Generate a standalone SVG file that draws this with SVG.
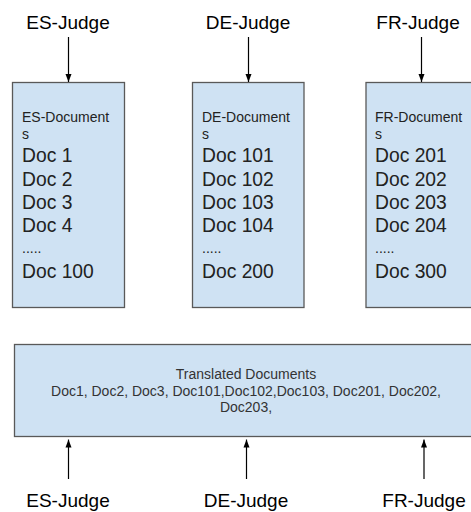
<svg xmlns="http://www.w3.org/2000/svg" width="471" height="512" viewBox="0 0 471 512">
<defs>
<marker id="ah" viewBox="0 0 8 8" refX="8" refY="4" markerWidth="8" markerHeight="8" markerUnits="userSpaceOnUse" orient="auto">
<path d="M0,1 L8,4 L0,7 Z" fill="#000"/>
</marker>
<style>
.box{fill:#cfe2f3;stroke:#595959;stroke-width:1.3}
.lbl{font-family:"Liberation Sans",Arial,sans-serif;font-size:19px;fill:#000;text-anchor:middle}
.small{font-family:"Liberation Sans",Arial,sans-serif;font-size:14px;fill:#222}
.big{font-family:"Liberation Sans",Arial,sans-serif;font-size:19.3px;fill:#222}
.mid{font-family:"Liberation Sans",Arial,sans-serif;font-size:14px;fill:#333;text-anchor:middle}
.con{stroke:#000;stroke-width:1.2;fill:none;marker-end:url(#ah)}
</style>
</defs>
<rect width="471" height="512" fill="#fff"/>
<g id="es-judge-top"><text class="lbl" x="68" y="29">ES-Judge</text></g>
<g id="de-judge-top"><text class="lbl" x="248" y="29">DE-Judge</text></g>
<g id="fr-judge-top"><text class="lbl" x="418" y="29">FR-Judge</text></g>
<g id="es-docs">
<rect class="box" x="12.5" y="82.5" width="112" height="225"/>
<text class="small" x="22" y="122">ES-Document</text>
<text class="small" x="22" y="139">s</text>
<text class="big" x="22" y="162">Doc 1</text>
<text class="big" x="22" y="185.5">Doc 2</text>
<text class="big" x="22" y="209">Doc 3</text>
<text class="big" x="22" y="232">Doc 4</text>
<text class="small" x="22" y="253">.....</text>
<text class="big" x="22" y="277.5">Doc 100</text>
</g>
<g id="de-docs">
<rect class="box" x="192.5" y="82.5" width="111.5" height="225"/>
<text class="small" x="202" y="122">DE-Document</text>
<text class="small" x="202" y="139">s</text>
<text class="big" x="202" y="162">Doc 101</text>
<text class="big" x="202" y="185.5">Doc 102</text>
<text class="big" x="202" y="209">Doc 103</text>
<text class="big" x="202" y="232">Doc 104</text>
<text class="small" x="202" y="253">.....</text>
<text class="big" x="202" y="277.5">Doc 200</text>
</g>
<g id="fr-docs">
<rect class="box" x="366" y="82.5" width="112" height="225"/>
<text class="small" x="375" y="122">FR-Document</text>
<text class="small" x="375" y="139">s</text>
<text class="big" x="375" y="162">Doc 201</text>
<text class="big" x="375" y="185.5">Doc 202</text>
<text class="big" x="375" y="209">Doc 203</text>
<text class="big" x="375" y="232">Doc 204</text>
<text class="small" x="375" y="253">.....</text>
<text class="big" x="375" y="277.5">Doc 300</text>
</g>
<g id="translated">
<rect class="box" x="14.5" y="344.5" width="463" height="92"/>
<text class="mid" x="246" y="379">Translated Documents</text>
<text class="mid" x="246" y="395.7">Doc1, Doc2, Doc3, Doc101,Doc102,Doc103, Doc201, Doc202,</text>
<text class="mid" x="246" y="412">Doc203,</text>
</g>
<g id="es-judge-bottom"><text class="lbl" x="68" y="507">ES-Judge</text></g>
<g id="de-judge-bottom"><text class="lbl" x="246" y="507">DE-Judge</text></g>
<g id="fr-judge-bottom"><text class="lbl" x="424" y="507">FR-Judge</text></g>
<g id="connectors">
<line class="con" x1="68.5" y1="37" x2="68.5" y2="82"/>
<line class="con" x1="248.5" y1="37" x2="248.5" y2="82"/>
<line class="con" x1="421.5" y1="37" x2="421.5" y2="82"/>
<line class="con" x1="68.5" y1="479" x2="68.5" y2="439.5"/>
<line class="con" x1="246.5" y1="479" x2="246.5" y2="439.5"/>
<line class="con" x1="424" y1="479" x2="424" y2="439.5"/>
</g>
</svg>
